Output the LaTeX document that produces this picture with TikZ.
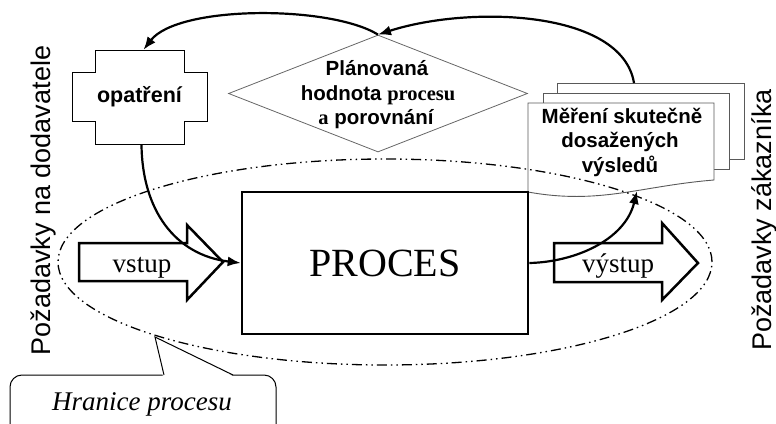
\documentclass[tikz,border=0pt]{standalone}
\usepackage{fontspec}
\setmainfont{Liberation Serif}
\newfontfamily\arialf{Liberation Sans}
\usetikzlibrary{arrows.meta,shapes.geometric}
\begin{document}
\begin{tikzpicture}[x=1pt,y=-1pt,
  conn/.style={line width=2.2pt,-{Latex[length=13pt,width=10pt]}},
  blockarrow/.style={draw,line width=2.5pt,fill=white,line join=miter},
  pagebox/.style={draw=black!65,line width=0.9pt,fill=white},
  bnd/.style={line width=1.3pt,dash pattern=on 10pt off 4pt on 1.5pt off 4pt on 1.5pt off 4pt},
  sanstxt/.style={font=\arialf\bfseries\fontsize{20.5}{24}\selectfont,inner sep=0pt},
  sidetxt/.style={font=\arialf\fontsize{27}{32}\selectfont,inner sep=0pt,rotate=90,anchor=base},
  sertxt/.style={font=\fontsize{27}{32}\selectfont,inner sep=0pt,anchor=base}]
\useasboundingbox (0,0) rectangle (776,423);

% side labels
\node[sidetxt] (left) at (50,200.5) {Požadavky na dodavatele};
\node[sidetxt] (right) at (771,220) {Požadavky zákazníka};

% cross "opatreni"
\draw[line width=1pt,fill=white] (95,50) -- (184,50) -- (184,72) -- (207,72) -- (207,121) -- (184,121)
  -- (184,144) -- (95,144) -- (95,121) -- (72,121) -- (72,72) -- (95,72) -- cycle;
\node[minimum width=89pt,minimum height=94pt,inner sep=0pt,
  font=\arialf\bfseries\fontsize{21.5}{25}\selectfont] (opat) at (139.5,97) {opatření};

% diamond
\node[diamond,draw=black!60,line width=0.8pt,minimum width=299pt,minimum height=117pt,inner sep=0pt] (plan) at (378,93.5) {};
\node[sanstxt,anchor=base] (plan1) at (377,75) {Plánovaná};
\node[sanstxt,anchor=base] (plan2) at (378,100) {hodnota \fontspec{Liberation Serif}\bfseries procesu};
\node[sanstxt,anchor=base] (plan3) at (376,124) {{\fontspec{Liberation Serif}\bfseries a} porovnání};

% document stack
\node[pagebox,minimum width=187pt,minimum height=76pt,anchor=north west] (page3) at (557,83) {};
\node[pagebox,minimum width=186pt,minimum height=76pt,anchor=north west] (page2) at (543,93) {};
\draw[pagebox] (528,103) -- (714,103) -- (714,180) .. controls (640,186) and (600,205) .. (528,192) -- cycle;
\node[sanstxt,anchor=base] (doc1) at (622,123) {Měření skutečně};
\node[sanstxt,anchor=base] (doc2) at (620,147) {dosažených};
\node[sanstxt,anchor=base] (doc3) at (620,172) {výsledů};
\coordinate (doctop) at (634,83);
\coordinate (docbot) at (637,191);

% process box
\node[draw,line width=2.6pt,minimum width=286pt,minimum height=142pt,
  font=\fontsize{40}{46}\selectfont] (proc) at (385,263) {PROCES};

% block arrows
\draw[blockarrow] (79,243) -- (187,243) -- (187,225) -- (223,262) -- (187,300) -- (187,281) -- (79,281) -- cycle;
\node[sertxt] (vstup) at (142,272) {vstup};
\draw[blockarrow] (554,243) -- (662,243) -- (662,223) -- (698,263) -- (662,300) -- (662,282) -- (554,282) -- cycle;
\node[sertxt] (vystup) at (618,272) {výstup};

% boundary ellipse
\draw[bnd] (385,262) ellipse [x radius=327pt, y radius=103pt];

% callout
\draw[line width=1pt,fill=white,rounded corners=12pt] (10,375) rectangle (276,450);
\fill[white] (163,376.5) -- (155,337) -- (234,376.5) -- cycle;
\draw[line width=1pt] (164,375) -- (155,337) -- (233,375);
\node[sertxt,font=\itshape\fontsize{27}{32}\selectfont] (hranice) at (142,410) {Hranice procesu};

% connectors
\draw[conn] (doctop) .. controls (622,10) and (470,5) .. (plan.north);
\draw[conn] (plan.north) .. controls (330,5) and (178,5) .. ([xshift=4pt]opat.north);
\draw[conn] ([xshift=2pt]opat.south) .. controls (142,210) and (175,255) .. (proc.west);
\draw[conn] (proc.east) .. controls (575,262) and (625,240) .. (docbot);
\end{tikzpicture}
\end{document}
